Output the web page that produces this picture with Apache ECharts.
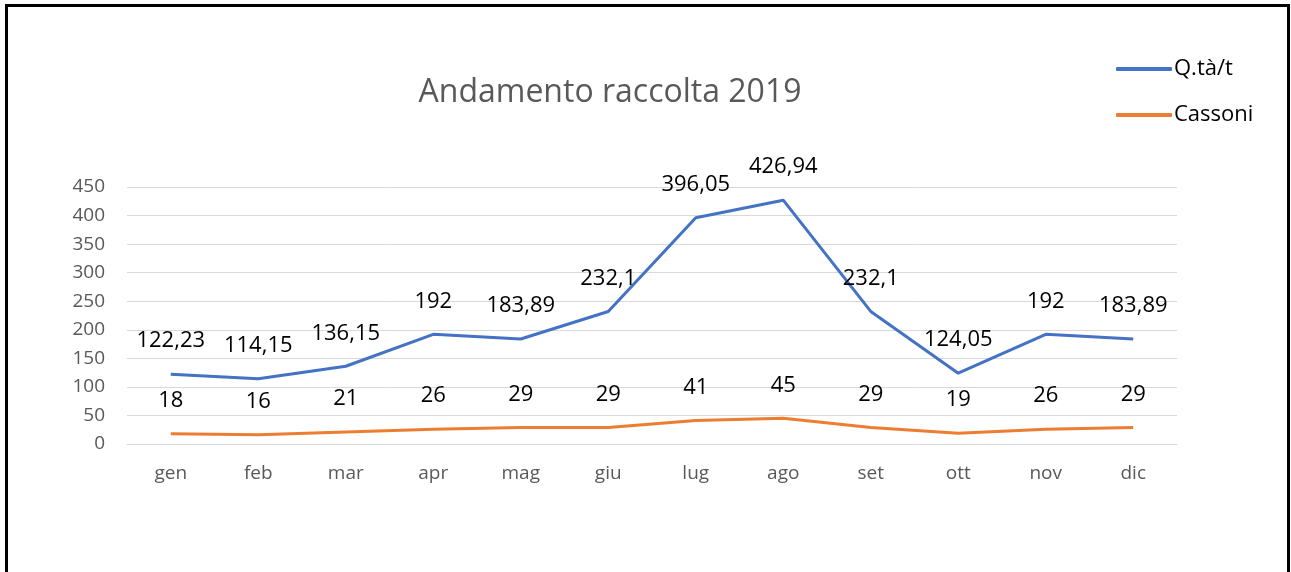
<!DOCTYPE html>
<html>
<head>
<meta charset="utf-8">
<script src="https://cdn.jsdelivr.net/npm/echarts@6/dist/echarts.min.js"></script>
<style>
  html, body { margin: 0; padding: 0; background: #fff; }
  #chart { width: 1291px; height: 572px; }
</style>
</head>
<body>
<div id="chart"></div>
<script>
const months = ['gen', 'feb', 'mar', 'apr', 'mag', 'giu', 'lug', 'ago', 'set', 'ott', 'nov', 'dic'];
const quantita = [122.23, 114.15, 136.15, 192, 183.89, 232.1, 396.05, 426.94, 232.1, 124.05, 192, 183.89];
const cassoni = [18, 16, 21, 26, 29, 29, 41, 45, 29, 19, 26, 29];

const font = '"Open Sans", "Noto Sans", sans-serif';
const chart = echarts.init(document.getElementById('chart'));

function commaLabel(p) {
  return String(p.value).replace('.', ',');
}

chart.setOption({
  backgroundColor: '#fff',
  animation: false,
  textStyle: { fontFamily: font },
  graphic: [
    {
      type: 'rect',
      shape: { x: 6.5, y: 5.5, width: 1282, height: 620 },
      style: { fill: 'none', stroke: '#000', lineWidth: 3 }
    }
  ],
  title: {
    text: 'Andamento raccolta 2019',
    left: 605,
    top: 72,
    textAlign: 'center',
    textStyle: { fontFamily: font, fontSize: 32, fontWeight: 'normal', color: '#595959' }
  },
  legend: {
    orient: 'vertical',
    left: 1111,
    top: 53,
    itemWidth: 56,
    itemHeight: 4,
    itemGap: 24,
    icon: 'roundRect',
    textStyle: { fontFamily: font, fontSize: 22, color: '#000', padding: [0, 0, 0, -3] },
    data: ['Q.tà/t', 'Cassoni']
  },
  grid: { left: 127, right: 114, top: 187, bottom: 128 },
  xAxis: {
    type: 'category',
    data: months,
    boundaryGap: true,
    axisLine: { lineStyle: { color: '#d9d9d9', width: 1 } },
    axisTick: { show: false },
    axisLabel: { color: '#595959', fontSize: 19, margin: 20, fontFamily: font }
  },
  yAxis: {
    type: 'value',
    min: 0,
    max: 450,
    interval: 50,
    axisLine: { show: false },
    axisTick: { show: false },
    splitLine: { lineStyle: { color: '#d9d9d9', width: 1 } },
    axisLabel: { color: '#595959', fontSize: 19, margin: 22, fontFamily: font }
  },
  series: [
    {
      name: 'Q.tà/t',
      type: 'line',
      data: quantita,
      symbol: 'circle',
      symbolSize: 0,
      color: '#4472C4',
      lineStyle: { width: 3, color: '#4472C4' },
      label: {
        show: true,
        position: 'top',
        distance: 22,
        formatter: commaLabel,
        color: '#000',
        fontSize: 22,
        fontFamily: font
      }
    },
    {
      name: 'Cassoni',
      type: 'line',
      data: cassoni,
      symbol: 'circle',
      symbolSize: 0,
      color: '#ED7D31',
      lineStyle: { width: 3, color: '#ED7D31' },
      label: {
        show: true,
        position: 'top',
        distance: 22,
        formatter: commaLabel,
        color: '#000',
        fontSize: 22,
        fontFamily: font
      }
    }
  ]
});
</script>
</body>
</html>
